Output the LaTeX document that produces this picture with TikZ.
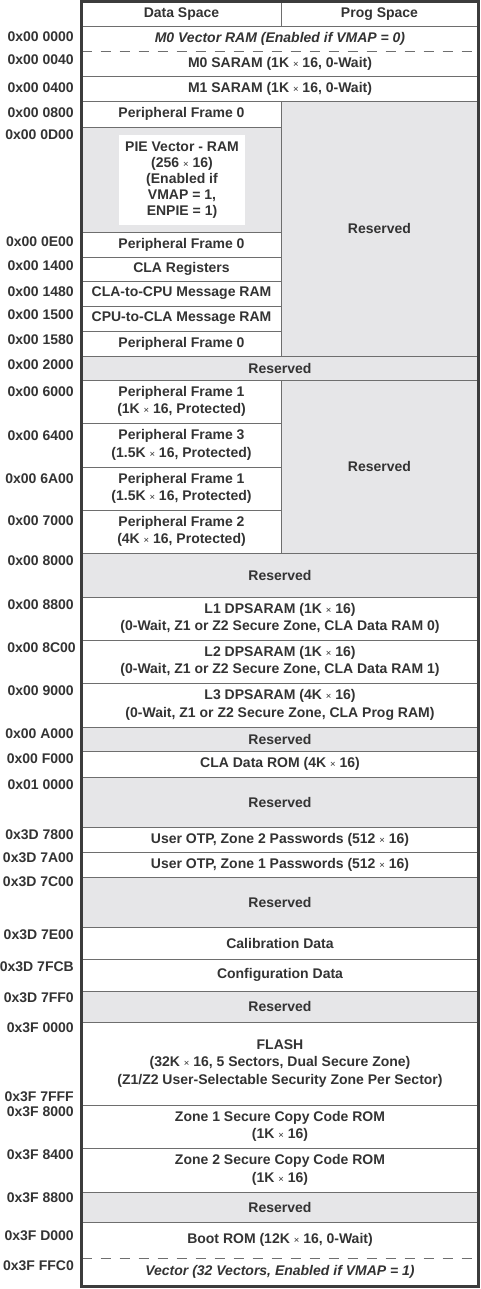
\documentclass[tikz,border=0pt]{standalone}
\usepackage{fontspec}
\setmainfont{Liberation Sans}
\definecolor{txt}{HTML}{333333}
\definecolor{ln}{HTML}{6E6E6E}
\definecolor{rsv}{HTML}{E6E6E8}
\definecolor{framec}{HTML}{3C3C3C}
\newcommand\tms{{\fontsize{9.5}{9.5}\selectfont\mdseries ×}}
\newcommand\mcell[7]{%
  \pgfmathsetmacro\cw{#5-#3}\pgfmathsetmacro\ch{#6-#4}%
  \node[#2, minimum width=\cw pt, minimum height=\ch pt] (#1) at ({(#3+#5)/2},{(#4+#6)/2}) {#7};}
\begin{document}
\begin{tikzpicture}[x=1pt,y=-1pt,
  font=\fontsize{14}{17.5}\selectfont\bfseries, text=txt,
  cell/.style={draw=ln, line width=0.8pt, fill=white, inner sep=0pt, align=center},
  rsvcell/.style={cell, fill=rsv},
  addr/.style={anchor=east, inner sep=0pt},
  sepdash/.style={draw=ln, line width=0.8pt, dash pattern=on 10.5pt off 8.5pt}]
\useasboundingbox (0,0) rectangle (481,1289);
% header
\mcell{dsp}{cell}{82}{2}{281}{26}{Data Space}
\mcell{psp}{cell}{281}{2}{478}{26}{Prog Space}
\mcell{m0v}{cell}{82}{26}{478}{51}{\itshape M0 Vector RAM (Enabled if VMAP = 0)}
\mcell{m0s}{cell}{82}{51}{478}{76}{M0 SARAM (1K \tms\ 16, 0-Wait)}
\mcell{m1s}{cell}{82}{76}{478}{101}{M1 SARAM (1K \tms\ 16, 0-Wait)}
\mcell{pf0a}{cell}{82}{101}{281}{127}{Peripheral Frame 0}
\mcell{pie}{rsvcell}{82}{127}{281}{232}{}
\mcell{pietxt}{cell,draw=none,font=\fontsize{14}{16}\selectfont\bfseries}{119}{135}{245}{225}{PIE Vector - RAM\\(256 \tms\ 16)\\(Enabled if\\VMAP = 1,\\ENPIE = 1)}
\mcell{rsv1}{rsvcell}{281}{101}{478}{356}{Reserved}
\mcell{pf0b}{cell}{82}{232}{281}{257}{Peripheral Frame 0}
\mcell{clar}{cell}{82}{257}{281}{281}{CLA Registers}
\mcell{c2c}{cell}{82}{281}{281}{306}{CLA-to-CPU Message RAM}
\mcell{p2c}{cell}{82}{306}{281}{331}{CPU-to-CLA Message RAM}
\mcell{pf0c}{cell}{82}{331}{281}{356}{Peripheral Frame 0}
\mcell{rsv2}{rsvcell}{82}{356}{478}{380}{Reserved}
\mcell{pf1a}{cell}{82}{380}{281}{423}{Peripheral Frame 1\\(1K \tms\ 16, Protected)}
\mcell{pf3}{cell}{82}{423}{281}{467}{Peripheral Frame 3\\(1.5K \tms\ 16, Protected)}
\mcell{pf1b}{cell}{82}{467}{281}{510}{Peripheral Frame 1\\(1.5K \tms\ 16, Protected)}
\mcell{pf2}{cell}{82}{510}{281}{553}{Peripheral Frame 2\\(4K \tms\ 16, Protected)}
\mcell{rsv3}{rsvcell}{281}{380}{478}{553}{Reserved}
\mcell{rsv4}{rsvcell}{82}{553}{478}{597}{Reserved}
\mcell{l1}{cell}{82}{597}{478}{640}{L1 DPSARAM (1K \tms\ 16)\\(0-Wait, Z1 or Z2 Secure Zone, CLA Data RAM 0)}
\mcell{l2}{cell}{82}{640}{478}{683}{L2 DPSARAM (1K \tms\ 16)\\(0-Wait, Z1 or Z2 Secure Zone, CLA Data RAM 1)}
\mcell{l3}{cell}{82}{683}{478}{727}{L3 DPSARAM (4K \tms\ 16)\\(0-Wait, Z1 or Z2 Secure Zone, CLA Prog RAM)}
\mcell{rsv5}{rsvcell}{82}{727}{478}{751}{Reserved}
\mcell{clarom}{cell}{82}{751}{478}{777}{CLA Data ROM (4K \tms\ 16)}
\mcell{rsv6}{rsvcell}{82}{777}{478}{827}{Reserved}
\mcell{otp2}{cell}{82}{827}{478}{852}{User OTP, Zone 2 Passwords (512 \tms\ 16)}
\mcell{otp1}{cell}{82}{852}{478}{877}{User OTP, Zone 1 Passwords (512 \tms\ 16)}
\mcell{rsv7}{rsvcell}{82}{877}{478}{927}{Reserved}
\mcell{cal}{cell}{82}{927}{478}{959}{Calibration Data}
\mcell{cfg}{cell}{82}{959}{478}{991}{Configuration Data}
\mcell{rsv8}{rsvcell}{82}{991}{478}{1022}{Reserved}
\mcell{flash}{cell}{82}{1022}{478}{1105}{FLASH\\(32K \tms\ 16, 5 Sectors, Dual Secure Zone)\\(Z1/Z2 User-Selectable Security Zone Per Sector)}
\mcell{z1}{cell}{82}{1105}{478}{1148}{Zone 1 Secure Copy Code ROM\\(1K \tms\ 16)}
\mcell{z2}{cell}{82}{1148}{478}{1192}{Zone 2 Secure Copy Code ROM\\(1K \tms\ 16)}
\mcell{rsv9}{rsvcell}{82}{1192}{478}{1222}{Reserved}
\mcell{boot}{cell}{82}{1222}{478}{1258}{Boot ROM (12K \tms\ 16, 0-Wait)}
\mcell{vec}{cell}{82}{1258}{478}{1286}{\itshape Vector (32 Vectors, Enabled if VMAP = 1)}
% dashed separators
\draw[white, line width=1.6pt] (m0v.south west) -- (m0v.south east);
\draw[sepdash] (m0v.south west) -- (m0v.south east);
\draw[white, line width=1.6pt] (boot.south west) -- (boot.south east);
\draw[sepdash] (boot.south west) -- (boot.south east);
% outer frame
\draw[framec, line width=2.5pt] (dsp.north west) rectangle (vec.south east);
% addresses
\node[addr] (a01) at (74,37) {0x00 0000};
\node[addr] (a02) at (74,60) {0x00 0040};
\node[addr] (a03) at (74,88) {0x00 0400};
\node[addr] (a04) at (74,113) {0x00 0800};
\node[addr] (a05) at (74,135) {0x00 0D00};
\node[addr] (a06) at (74,242) {0x00 0E00};
\node[addr] (a07) at (74,266) {0x00 1400};
\node[addr] (a08) at (74,292) {0x00 1480};
\node[addr] (a09) at (74,315) {0x00 1500};
\node[addr] (a10) at (74,340) {0x00 1580};
\node[addr] (a11) at (74,365) {0x00 2000};
\node[addr] (a12) at (74,392) {0x00 6000};
\node[addr] (a13) at (74,436) {0x00 6400};
\node[addr] (a14) at (74,479) {0x00 6A00};
\node[addr] (a15) at (74,521) {0x00 7000};
\node[addr] (a16) at (74,561) {0x00 8000};
\node[addr] (a17) at (74,605) {0x00 8800};
\node[addr] (a18) at (76,648) {0x00 8C00};
\node[addr] (a19) at (74,691) {0x00 9000};
\node[addr] (a20) at (74,734) {0x00 A000};
\node[addr] (a21) at (74,759) {0x00 F000};
\node[addr] (a22) at (74,785) {0x01 0000};
\node[addr] (a23) at (74,835) {0x3D 7800};
\node[addr] (a24) at (74,858) {0x3D 7A00};
\node[addr] (a25) at (74,882) {0x3D 7C00};
\node[addr] (a26) at (74,935) {0x3D 7E00};
\node[addr] (a27) at (74,967) {0x3D 7FCB};
\node[addr] (a28) at (74,998) {0x3D 7FF0};
\node[addr] (a29) at (74,1028) {0x3F 0000};
\node[addr] (a30) at (74,1097) {0x3F 7FFF};
\node[addr] (a31) at (74,1112) {0x3F 8000};
\node[addr] (a32) at (74,1155) {0x3F 8400};
\node[addr] (a33) at (74,1198) {0x3F 8800};
\node[addr] (a34) at (74,1236) {0x3F D000};
\node[addr] (a35) at (74,1266) {0x3F FFC0};
\end{tikzpicture}
\end{document}
